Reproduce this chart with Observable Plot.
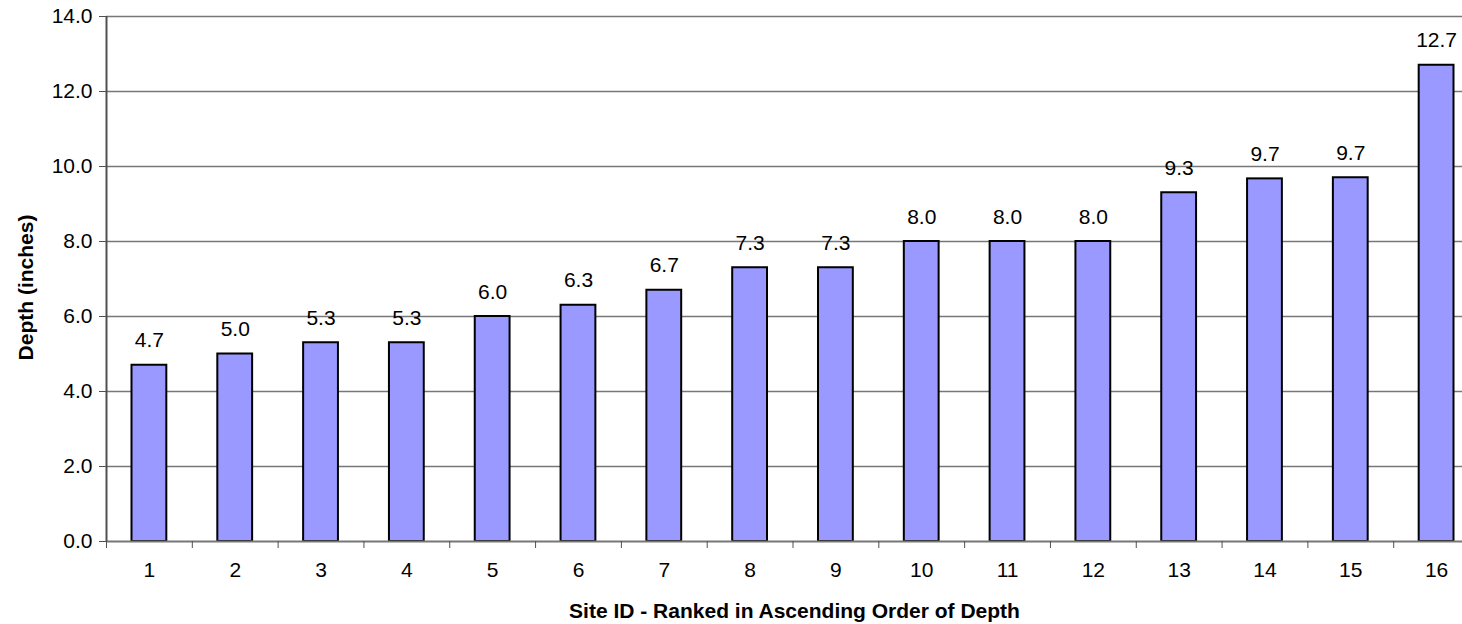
<!DOCTYPE html>
<html>
<head>
<meta charset="utf-8">
<script src="https://cdn.jsdelivr.net/npm/d3@7"></script>
<script src="https://cdn.jsdelivr.net/npm/@observablehq/plot@0.6"></script>
<style>
  html, body { margin: 0; padding: 0; background: #fff; overflow: hidden; }
  #chart svg { max-width: none !important; display: block; }
</style>
</head>
<body>
<div id="chart"></div>
<script>
const sites = [1, 2, 3, 4, 5, 6, 7, 8, 9, 10, 11, 12, 13, 14, 15, 16];
const depths = [4.7, 5.0, 5.3, 5.3, 6.0, 6.3, 6.7, 7.3, 7.3, 8.0, 8.0, 8.0, 9.3, 9.67, 9.7, 12.7];
const yTicks = [0, 2, 4, 6, 8, 10, 12, 14];
const xTitle = "Site ID - Ranked in Ascending Order of Depth";
const yTitle = "Depth (inches)";

const data = sites.map((s, i) => ({site: s, depth: depths[i]}));
const boundaries = d3.range(sites.length + 1).map(i => i + 0.5);
const font = "'Liberation Sans', Arial, sans-serif";

const chart = Plot.plot({
  width: 1480,
  height: 624,
  marginLeft: 106,
  marginRight: 1,
  marginTop: 16,
  marginBottom: 83,
  style: {fontFamily: font, fontSize: "21px", color: "#000", background: "#fff"},
  x: {type: "linear", domain: [0.5, sites.length + 0.5]},
  y: {domain: [0, 14]},
  marks: [
    Plot.ruleY(yTicks.filter(d => d > 0), {stroke: "#777", strokeWidth: 1.6}),
    Plot.rectY(data, {
      x1: d => d.site - 0.5, x2: d => d.site + 0.5, y: "depth",
      insetLeft: 25.5, insetRight: 25.5,
      fill: "#9999FF", stroke: "#000", strokeWidth: 2
    }),
    Plot.text(data, {
      x: "site", y: "depth", text: d => d3.format(".1f")(d.depth),
      lineAnchor: "bottom", dy: -18, fontSize: 21, fill: "#000"
    }),
    Plot.ruleY([0], {stroke: "#777", strokeWidth: 1.8}),
    Plot.ruleX([0.5], {y1: 0, y2: 14, stroke: "#505050", strokeWidth: 2}),
    Plot.axisY({
      ticks: yTicks, tickSize: 7, tickPadding: 7, tickFormat: d3.format(".1f"),
      label: null, stroke: "#505050", fontSize: 21
    }),
    Plot.axisX({
      ticks: sites, tickSize: 0, tickPadding: 21, tickFormat: d => String(d),
      label: null, fontSize: 21
    }),
    Plot.axisX({
      ticks: boundaries, tickSize: 7, tickFormat: () => "", label: null, stroke: "#505050"
    }),
    Plot.text([xTitle], {
      frameAnchor: "bottom", dx: 1.5, dy: 76, lineAnchor: "bottom",
      fontSize: 21, fontWeight: "bold", fill: "#000"
    }),
    Plot.text([yTitle], {
      frameAnchor: "left", dx: -80, dy: 8.5, rotate: -90,
      textAnchor: "middle", lineAnchor: "middle",
      fontSize: 21, fontWeight: "bold", fill: "#000"
    })
  ]
});
document.getElementById("chart").appendChild(chart);
</script>
</body>
</html>
